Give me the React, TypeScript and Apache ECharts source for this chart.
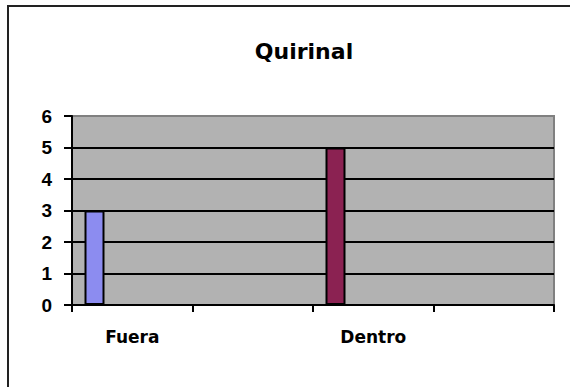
import React, { useEffect, useRef } from "react";
import * as echarts from "echarts";

const title = "Quirinal";
const categories = ["Fuera", "", "Dentro", ""];
const values: (number | null)[] = [3, null, 5, null];
const pointColors = ["#8C8CF0", "#8B2252", "#8B2252", "#8B2252"];
const yMin = 0;
const yMax = 6;
const yInterval = 1;

export default function App() {
  const ref = useRef<HTMLDivElement>(null);
  useEffect(() => {
    if (!ref.current) return;
    const chart = echarts.init(ref.current, undefined, { renderer: "svg" });
    const wide = "'DejaVu Sans', Verdana, sans-serif";
    const arial = "'Liberation Sans', Arial, sans-serif";
    chart.setOption({
      animation: false,
      backgroundColor: "#ffffff",
      title: {
        text: title,
        left: 299,
        textAlign: "center",
        top: 35,
        textStyle: { fontFamily: wide, fontWeight: "bold", fontSize: 22, color: "#000" },
      },
      graphic: [
        {
          type: "rect",
          shape: { x: 8, y: 6, width: 620, height: 500 },
          style: { fill: "none", stroke: "#222", lineWidth: 2 },
          silent: true,
        },
      ],
      grid: {
        left: 72,
        top: 116,
        right: 16,
        bottom: 82,
        show: true,
        backgroundColor: "#B2B2B2",
        borderColor: "#808080",
        borderWidth: 2,
        containLabel: false,
      },
      xAxis: {
        type: "category",
        data: categories,
        boundaryGap: true,
        axisLine: { show: true, lineStyle: { color: "#000", width: 2 } },
        axisTick: { show: true, length: 7, alignWithLabel: false, interval: 0, lineStyle: { color: "#000", width: 2 } },
        axisLabel: {
          interval: 0,
          margin: 23,
          fontFamily: wide,
          fontWeight: "bold",
          fontSize: 17,
          color: "#000",
        },
        splitLine: { show: false },
      },
      yAxis: {
        type: "value",
        min: yMin,
        max: yMax,
        interval: yInterval,
        axisLine: { show: true, lineStyle: { color: "#000", width: 2 } },
        axisTick: { show: true, length: 8, lineStyle: { color: "#000", width: 2 } },
        axisLabel: {
          margin: 20,
          fontFamily: arial,
          fontWeight: "bold",
          fontSize: 19,
          color: "#000",
        },
        splitLine: {
          show: true,
          lineStyle: {
            color: ["#000", "#000", "#000", "#000", "#000", "#000", "#808080"],
            width: 2,
          },
        },
      },
      series: [
        {
          type: "bar",
          name: "Quirinal",
          data: values.map((v, i) => ({ value: v, itemStyle: { color: pointColors[i] } })),
          barWidth: 20,
          barGap: "277.5%",
          itemStyle: { borderColor: "#000", borderWidth: 2 },
        },
        {
          type: "bar",
          name: "_spacer",
          data: values.map(() => null),
          barWidth: 20,
          silent: true,
        },
      ],
    });
    return () => chart.dispose();
  }, []);
  return (
    <div
      ref={ref}
      style={{ position: "fixed", left: 0, top: 0, width: 570, height: 387 }}
    />
  );
}
